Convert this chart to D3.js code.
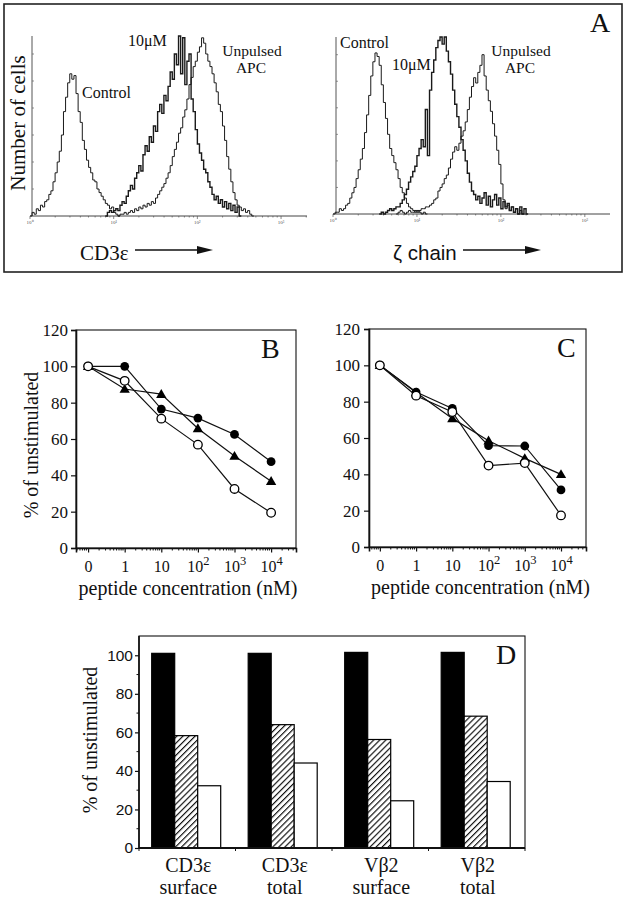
<!DOCTYPE html>
<html><head><meta charset="utf-8">
<script src="https://cdn.jsdelivr.net/npm/d3@7"></script>
<style>body{margin:0;background:#fff}svg{display:block}</style>
</head><body>
<svg id="c" width="626" height="899"></svg>
<script>
// ---------------- DATA ----------------
// Panel A histograms: counts per log bin (bin width 0.025 decade), start = log10 of first bin
const histStep = 0.025;
const cd3ControlStart = 0.0;
const cd3ControlCounts = [0,2,1,4,3,6,5,8,9,12,14,19,24,30,36,45,58,66,74,79,76,78,68,58,52,42,37,31,27,24,20,19,15,13,11,9,7,6,4,5,2,1,0];
const cd3PulsedStart = 0.90;
const cd3PulsedCounts = [0,2,3,2,3,4,3,6,8,7,11,14,17,15,21,24,28,25,34,39,36,44,41,50,47,58,62,57,67,64,72,80,76,90,84,100,79,99,73,86,90,65,58,48,40,35,31,26,24,19,16,12,9,11,7,9,5,8,4,7,3,6,2,5,0];
const cd3UnpulsedStart = 1.05;
const cd3UnpulsedCounts = [0,1,1,2,1,2,3,2,4,3,5,4,6,5,7,6,8,7,10,12,14,16,18,21,24,28,33,37,41,46,49,55,59,65,73,77,83,86,91,94,99,96,90,86,83,79,74,69,62,58,50,42,33,26,19,13,9,6,5,3,4,2,3,1,0];
const zetaControlStart = 0.0;
const zetaControlCounts = [0,1,1,3,2,3,5,6,9,12,15,20,25,31,37,46,56,67,78,86,91,89,84,73,63,54,45,37,33,29,25,20,15,12,9,6,4,3,2,1,2,1,0,1,0];
const zetaPulsedStart = 0.55;
const zetaPulsedCounts = [0,1,0,1,2,3,2,3,4,4,6,8,11,14,18,21,24,27,33,37,42,38,59,33,70,80,87,94,98,100,96,100,92,86,79,70,62,55,49,42,36,30,23,18,13,11,8,10,6,9,12,5,10,4,8,11,5,9,3,7,4,6,2,4,1,3,0,4,0,3,0];
const zetaUnpulsedStart = 0.75;
const zetaUnpulsedCounts = [0,1,2,1,0,1,2,1,1,2,1,2,3,3,4,4,5,6,8,9,13,15,17,20,22,26,31,35,38,36,40,44,47,52,59,66,72,77,74,80,84,90,78,70,64,58,51,44,36,28,17,8,3,5,2,4,1,3,0,2,0];

// Panels B and C: % of unstimulated vs peptide concentration
const concLabels = ["0","1","10","10^2","10^3","10^4"];
const bFilled   = [100,100,76.5,71.5,62.5,47.5];
const bTriangle = [100,87.5,84.7,65.8,50.6,36.8];
const bOpen     = [100,92,71.2,56.9,32.5,19.4];
const cFilled   = [100,85.3,76.3,55.8,55.6,31.4];
const cTriangle = [100,85,70.8,58.5,48.8,40];
const cOpen     = [100,83.3,74.3,44.8,46.2,17.4];
const yTicksBC  = [0,20,40,60,80,100,120];

// Panel D
const dCategoryTop    = ["CD3\u03b5","CD3\u03b5","V\u03b22","V\u03b22"];
const dCategoryBottom = ["surface","total","surface","total"];
const dUnstim = [101,101,101.5,101.5];
const dLow    = [58.3,64,56.3,68.4];
const dHigh   = [32.3,44.1,24.5,34.5];
const yTicksD = [0,20,40,60,80,100];

// ---------------- DRAWING ----------------
const SERIF = "'Liberation Serif','Times New Roman',serif";
const SANS = "'Liberation Sans',Arial,sans-serif";
const svg = d3.select('#c');
const defs = svg.append('defs');

// ---------- Panel A ----------
svg.append('rect').attr('x',4).attr('y',4).attr('width',618).attr('height',268)
  .attr('fill','none').attr('stroke','#222').attr('stroke-width',1.6);

function drawHist(o){
  const g = svg.append('g');
  const x = d3.scaleLog().domain([1, Math.pow(10,o.decades)]).range([o.x0,o.x1]);
  const y = d3.scaleLinear().domain([0,100]).range([o.yBase,o.yTop]);
  g.append('line').attr('x1',o.x0).attr('x2',o.x1).attr('y1',o.yBase).attr('y2',o.yBase)
    .attr('stroke','#444').attr('stroke-width',1);
  g.append('line').attr('x1',o.axisX).attr('x2',o.axisX).attr('y1',o.yTop).attr('y2',o.yBase)
    .attr('stroke','#555').attr('stroke-width',1);
  const ticks = x.ticks();
  g.selectAll('.xt').data(ticks).join('line')
    .attr('x1',d=>x(d)).attr('x2',d=>x(d))
    .attr('y1',o.yBase).attr('y2',d=>o.yBase + (Math.log10(d)%1===0 ? 3 : 1.5))
    .attr('stroke','#555').attr('stroke-width',0.7);
  const dec = ticks.filter(d=>Math.log10(d)%1===0);
  g.selectAll('.xl').data(dec).join('text')
    .attr('x',d=>x(d)).attr('y',o.yBase+8).attr('text-anchor','middle')
    .attr('font-size',5).attr('font-family',SERIF).attr('fill','#555')
    .text(d=>'10'+['\u2070','\u00b9','\u00b2','\u00b3'][Math.round(Math.log10(d))]);
  g.selectAll('.yt').data(d3.range(15,100,15)).join('line')
    .attr('x1',o.axisX).attr('x2',o.axisX+2).attr('y1',d=>y(d)).attr('y2',d=>y(d))
    .attr('stroke','#666').attr('stroke-width',0.7);
  const line = d3.line().x(p=>x(Math.pow(10,p[0]))).y(p=>y(p[1])).curve(d3.curveStepAfter);
  o.series.forEach(s=>{
    const pts = s.counts.map((c,i)=>[s.start+i*histStep, c]);
    pts.push([s.start+s.counts.length*histStep, 0]);
    g.append('path').attr('d',line(pts)).attr('fill','none')
      .attr('stroke','#1a1a1a').attr('stroke-width',s.w||1);
  });
}
drawHist({x0:30,x1:307,decades:3.31,yBase:216,yTop:36,axisX:32,series:[
  {start:cd3ControlStart,counts:cd3ControlCounts},
  {start:cd3UnpulsedStart,counts:cd3UnpulsedCounts},
  {start:cd3PulsedStart,counts:cd3PulsedCounts,w:1.4}]});
drawHist({x0:333,x1:610,decades:3.3,yBase:214,yTop:37,axisX:336,series:[
  {start:zetaControlStart,counts:zetaControlCounts},
  {start:zetaUnpulsedStart,counts:zetaUnpulsedCounts},
  {start:zetaPulsedStart,counts:zetaPulsedCounts,w:1.4}]});

function txt(x,y,s,size,fam,anchor){
  return svg.append('text').attr('x',x).attr('y',y).attr('font-size',size)
    .attr('font-family',fam||SERIF).attr('text-anchor',anchor||'start').attr('fill','#111').text(s);
}
function arrow(x1,x2,y){
  svg.append('line').attr('x1',x1).attr('x2',x2-12).attr('y1',y).attr('y2',y).attr('stroke','#111').attr('stroke-width',1.3);
  svg.append('path').attr('d',`M${x2-16},${y-4}L${x2},${y}L${x2-16},${y+4}Z`).attr('fill','#111');
}
// left labels
svg.append('text').attr('transform','translate(25,123) rotate(-90)').attr('text-anchor','middle')
  .attr('font-size',21).attr('font-family',SERIF).attr('fill','#111').text('Number of cells');
txt(82,98,'Control',16);
txt(128,46,'10\u03bcM',16);
txt(252,56,'Unpulsed',15.5,SERIF,'middle');
txt(251,73,'APC',15.5,SERIF,'middle');
txt(80,260,'CD3\u03b5',21);
arrow(135,213,250);
// right labels
txt(340,48,'Control',16);
txt(392,70,'10\u03bcM',16);
txt(521,56,'Unpulsed',15.5,SERIF,'middle');
txt(520,73,'APC',15.5,SERIF,'middle');
txt(393,260,'\u03b6 chain',20.5,SANS);
arrow(463,541,250);
txt(590,32,'A',28);

// ---------- Panels B & C ----------
function drawLinePanel(o){
  const g = svg.append('g');
  const x = d3.scaleLinear().domain(o.xDom).range([o.left,o.right]);
  const y = d3.scaleLinear().domain([0,120]).range([o.bottom,o.top]);
  g.append('rect').attr('x',o.left).attr('y',o.top).attr('width',o.right-o.left).attr('height',o.bottom-o.top)
    .attr('fill','none').attr('stroke','#111').attr('stroke-width',1.1);
  const ya = g.append('g').attr('transform',`translate(${o.left},0)`)
    .call(d3.axisLeft(y).tickValues(yTicksBC).tickSize(5).tickPadding(o.pad));
  ya.select('.domain').attr('stroke','#111').attr('stroke-width',1.6);
  ya.selectAll('text').attr('font-size',17).attr('font-family',SERIF).attr('fill','#111');
  ya.selectAll('line').attr('stroke','#111').attr('stroke-width',1.2);
  const minor = [];
  for(let d=-1; d<=5; d++) for(let k=2;k<=9;k++){ const v=d+Math.log10(k); if(v>o.xDom[0]&&v<o.xDom[1]) minor.push(v); }
  g.selectAll('.mt').data(minor).join('line').attr('x1',d=>x(d)).attr('x2',d=>x(d))
    .attr('y1',o.bottom).attr('y2',o.bottom+2.5).attr('stroke','#111').attr('stroke-width',1);
  const xa = g.append('g').attr('transform',`translate(0,${o.bottom})`)
    .call(d3.axisBottom(x).tickValues(d3.range(concLabels.length)).tickSize(4.5).tickPadding(10).tickFormat(''));
  xa.select('.domain').attr('stroke','#111').attr('stroke-width',1.6);
  xa.selectAll('line').attr('stroke','#111').attr('stroke-width',1.2);
  xa.selectAll('.tick').each(function(d){
    const t = d3.select(this).append('text').attr('y',24).attr('text-anchor','middle')
      .attr('font-size',16).attr('font-family',SERIF).attr('fill','#111');
    const parts = concLabels[d].split('^');
    t.append('tspan').text(parts[0]);
    if(parts[1]) t.append('tspan').attr('dy',-7).attr('font-size',12.5).text(parts[1]);
  });
  txt((o.left+o.right)/2+ (o.xlabOff||0), o.bottom+47,'peptide concentration (nM)',20,SERIF,'middle');
  const line = d3.line().x((v,i)=>x(i)).y(v=>y(v));
  [o.filled,o.triangle,o.open].forEach(s=>{
    g.append('path').attr('d',line(s)).attr('fill','none').attr('stroke','#111').attr('stroke-width',1.2);
  });
  g.selectAll('.f').data(o.filled).join('circle').attr('cx',(v,i)=>x(i)).attr('cy',v=>y(v)).attr('r',4.4).attr('fill','#000');
  g.selectAll('.t').data(o.triangle).join('path')
    .attr('transform',(v,i)=>`translate(${x(i)},${y(v)+0.8})`)
    .attr('d',d3.symbol(d3.symbolTriangle,46)).attr('fill','#000');
  g.selectAll('.o').data(o.open).join('circle').attr('cx',(v,i)=>x(i)).attr('cy',v=>y(v)).attr('r',4.3)
    .attr('fill','#fff').attr('stroke','#000').attr('stroke-width',1.3);
  txt(o.letterX,o.letterY,o.letter,28);
}
drawLinePanel({left:76,right:296,top:330,bottom:548,xDom:[-0.33,5.68],pad:3,
  filled:bFilled,triangle:bTriangle,open:bOpen,letter:'B',letterX:261,letterY:358,xlabOff:2});
drawLinePanel({left:369,right:586,top:329,bottom:547,xDom:[-0.3,5.69],pad:4,
  filled:cFilled,triangle:cTriangle,open:cOpen,letter:'C',letterX:557,letterY:357,xlabOff:3});
svg.append('text').attr('transform','translate(38,445) rotate(-90)').attr('text-anchor','middle')
  .attr('font-size',20).attr('font-family',SERIF).attr('fill','#111').text('% of unstimulated');

// ---------- Panel D ----------
const hp = defs.append('pattern').attr('id','hatch').attr('patternUnits','userSpaceOnUse')
  .attr('width',4.3).attr('height',4.3).attr('patternTransform','rotate(45)');
hp.append('rect').attr('width',4.3).attr('height',4.3).attr('fill','#fff');
hp.append('line').attr('x1',0.6).attr('x2',0.6).attr('y1',0).attr('y2',4.3).attr('stroke','#000').attr('stroke-width',1.1);

(function(){
  const L=139,R=525,T=636,B=848;
  const g = svg.append('g');
  const idx = d3.range(dCategoryTop.length);
  const x = d3.scaleBand().domain(idx).range([L,R]);
  const xs = d3.scaleBand().domain([0,1,2]).range([12.7,81.7]);
  const y = d3.scaleLinear().domain([0,110]).range([B,T]);
  g.append('rect').attr('x',L).attr('y',T).attr('width',R-L).attr('height',B-T)
    .attr('fill','none').attr('stroke','#111').attr('stroke-width',1.1);
  const series = [{v:dUnstim,fill:'#000'},{v:dLow,fill:'url(#hatch)'},{v:dHigh,fill:'#fff'}];
  series.forEach((s,si)=>{
    g.selectAll('.b'+si).data(s.v).join('rect')
      .attr('x',(v,i)=>x(i)+xs(si)).attr('width',xs.bandwidth())
      .attr('y',v=>y(v)).attr('height',v=>B-y(v))
      .attr('fill',s.fill).attr('stroke','#000').attr('stroke-width',1.2);
  });
  const ya = g.append('g').attr('transform',`translate(${L},0)`)
    .call(d3.axisLeft(y).tickValues(yTicksD).tickSize(4).tickPadding(2));
  ya.select('.domain').remove();
  ya.selectAll('text').attr('font-size',15.5).attr('font-family',SANS).attr('fill','#111');
  ya.selectAll('line').attr('stroke','#111').attr('stroke-width',1.2);
  g.selectAll('.ym').data([10,30,50,70,90]).join('line').attr('x1',L-2.5).attr('x2',L)
    .attr('y1',d=>y(d)).attr('y2',d=>y(d)).attr('stroke','#111').attr('stroke-width',1);
  g.append('line').attr('x1',L).attr('x2',L).attr('y1',T).attr('y2',B).attr('stroke','#111').attr('stroke-width',1.6);
  g.append('line').attr('x1',L).attr('x2',R).attr('y1',B).attr('y2',B).attr('stroke','#111').attr('stroke-width',1.8);
  g.selectAll('.xt').data(d3.range(idx.length+1)).join('line')
    .attr('x1',i=>L+i*x.step()).attr('x2',i=>L+i*x.step()).attr('y1',B).attr('y2',B+3)
    .attr('stroke','#111').attr('stroke-width',1);
  idx.forEach(i=>{
    const cx = x(i)+x.bandwidth()/2+1;
    txt(cx,872,dCategoryTop[i],20,SERIF,'middle');
    txt(cx,894,dCategoryBottom[i],20,SERIF,'middle');
  });
  txt(496,664,'D',28);
  svg.append('text').attr('transform','translate(97,740) rotate(-90)').attr('text-anchor','middle')
    .attr('font-size',20).attr('font-family',SERIF).attr('fill','#111').text('% of unstimulated');
})();
</script>
</body></html>
